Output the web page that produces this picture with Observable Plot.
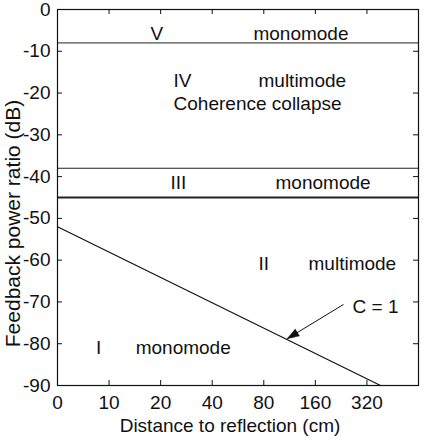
<!DOCTYPE html>
<html>
<head>
<meta charset="utf-8">
<script src="https://cdn.jsdelivr.net/npm/d3@7"></script>
<script src="https://cdn.jsdelivr.net/npm/@observablehq/plot@0.6"></script>
<style>
  html, body { margin: 0; padding: 0; background: #fff; }
</style>
</head>
<body>
<div id="chart"></div>
<script>
// Tick values / labels
const xTickValues = [5, 10, 20, 40, 80, 160, 320];
const xTickLabels = ["0", "10", "20", "40", "80", "160", "320"];
const yTicks = [0, -10, -20, -30, -40, -50, -60, -70, -80, -90];

// Regime boundaries (dB)
const boundaryDB = [-8, -38, -45];
const boundaryWidth = [1, 1, 2];

// C = 1 line
const cDistance = [5, 384];
const cDB = [-52, -90];

// Region labels
const labelText = ["V", "monomode", "IV", "multimode", "Coherence collapse", "III", "monomode", "II", "multimode", "I", "monomode", "C = 1"];
const labelX = [17.45, 69.6, 23.8, 74.5, 23.8, 22.8, 93.7, 74.5, 146, 8.4, 14.3, 263.6];
const labelY = [-5.74, -5.74, -17.0, -17.0, -22.7, -41.6, -41.6, -60.8, -60.8, -80.9, -80.9, -71.3];

// Arrow to C = 1 line
const arrowFrom = [233.6, -70.6];
const arrowTo = [109.6, -78.8];

const W = 425, H = 447;
const mL = 57, mR = 7, mT = 9, mB = 62;
const fw = W - mL - mR, fh = H - mT - mB;

const labels = labelText.map((t, i) => ({t, x: labelX[i], y: labelY[i]}));
const bounds = boundaryDB.map((y, i) => ({y, w: boundaryWidth[i]}));
const cLine = cDistance.map((x, i) => ({x, y: cDB[i]}));

const chart = Plot.plot({
  width: W,
  height: H,
  marginLeft: mL,
  marginRight: mR,
  marginTop: mT,
  marginBottom: mB,
  style: {fontFamily: "'Liberation Sans', Arial, sans-serif", fontSize: "19px", color: "#111", background: "#fff"},
  x: {type: "log", base: 2, domain: [5, 640]},
  y: {domain: [-90, 0]},
  marks: [
    Plot.axisX({ticks: xTickValues, tickFormat: (d) => xTickLabels[xTickValues.indexOf(d)], tickSize: 0, tickPadding: 10, label: null, fontSize: 19}),
    Plot.axisY({ticks: yTicks, tickFormat: (d) => String(d), tickSize: 0, tickPadding: 7, label: null, fontSize: 19}),
    // inward ticks
    Plot.tickX(xTickValues.slice(1), {x: (d) => d, insetTop: fh - 5, stroke: "#111"}),
    Plot.tickX(xTickValues.slice(1), {x: (d) => d, insetBottom: fh - 5, stroke: "#111"}),
    Plot.tickY(yTicks.slice(1, -1), {y: (d) => d, insetRight: fw - 5, stroke: "#111"}),
    Plot.tickY(yTicks.slice(1, -1), {y: (d) => d, insetLeft: fw - 5, stroke: "#111"}),
    Plot.ruleY(bounds, {y: "y", strokeWidth: "w", stroke: "#222"}),
    Plot.line(cLine, {x: "x", y: "y", stroke: "#111", strokeWidth: 1.2}),
    Plot.link([0], {x1: () => arrowFrom[0], y1: () => arrowFrom[1], x2: () => arrowTo[0], y2: () => arrowTo[1], stroke: "#111", strokeWidth: 1}),
    Plot.vector([0], {x: () => arrowTo[0], y: () => arrowTo[1], shape: "spike", anchor: "end", length: 12, r: 4, rotate: 238.6, fill: "#111", stroke: "#111", strokeWidth: 0.5}),
    Plot.text(labels, {x: "x", y: "y", text: "t", textAnchor: "start", fill: "#111", fontSize: 19}),
    Plot.frame({stroke: "#111", strokeWidth: 1.2}),
    Plot.text(["Distance to reflection (cm)"], {frameAnchor: "bottom", textAnchor: "middle", lineAnchor: "middle", dy: 40, dx: -8, fill: "#111", fontSize: 19}),
    Plot.text(["Feedback power ratio (dB)"], {frameAnchor: "left", textAnchor: "middle", lineAnchor: "middle", dx: -44, dy: 26, rotate: -90, fill: "#111", fontSize: 21})
  ]
});
document.getElementById("chart").appendChild(chart);
</script>
</body>
</html>
